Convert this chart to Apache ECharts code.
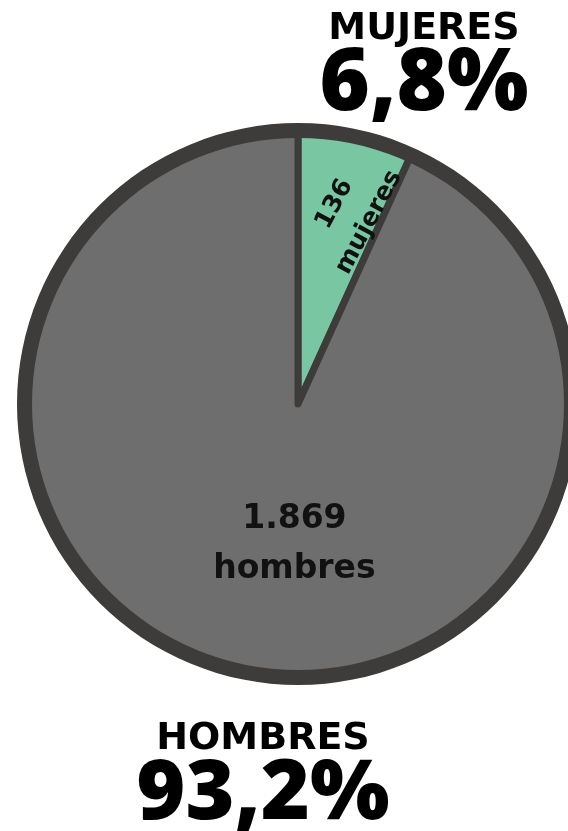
<!DOCTYPE html>
<html><head><meta charset="utf-8">
<script src="https://cdn.jsdelivr.net/npm/echarts@6/dist/echarts.min.js"></script>
<style>html,body{margin:0;padding:0;background:#fff}#c{width:568px;height:831px}</style>
</head><body><div id="c"></div>
<script>
const categories = ['mujeres', 'hombres'];
const values = [136, 1869];
const headings = ['MUJERES', 'HOMBRES'];
const percents = ['6,8%', '93,2%'];
const colors = ['#79c6a2', '#6e6e6e'];

const fmt = v => String(v).replace(/\B(?=(\d{3})+(?!\d))/g, '.');
const DARK = '#3e3c3a';
const WORD_FONT = '"DejaVu Sans", sans-serif';
const NUM_FONT = '"Open Sans", sans-serif';

const chart = echarts.init(document.getElementById('c'), null, {renderer: 'canvas'});
// dx/dy are in the label's own (rotated) frame
const labelCfg = [
  {fontSize: 25, lineHeight: 39, rotate: 62, dx: 59, dy: -4},
  {fontSize: 33, lineHeight: 50, rotate: 0, dx: 26, dy: 4}
];
chart.setOption({
  animation: false,
  graphic: [
    {type: 'text', x: 424, y: 29, style: {text: headings[0], font: '900 38px ' + WORD_FONT, fill: '#000', textAlign: 'center', textVerticalAlign: 'middle'}},
    {type: 'text', x: 424, y: 85, style: {text: percents[0], font: '800 86px ' + NUM_FONT, fill: '#000', textAlign: 'center', textVerticalAlign: 'middle'}},
    {type: 'text', x: 263, y: 739, style: {text: headings[1], font: '900 38px ' + WORD_FONT, fill: '#000', textAlign: 'center', textVerticalAlign: 'middle'}},
    {type: 'text', x: 263, y: 795, style: {text: percents[1], font: '800 84px ' + NUM_FONT, fill: '#000', textAlign: 'center', textVerticalAlign: 'middle'}}
  ],
  series: [
    {
      type: 'pie',
      center: [298, 404],
      radius: [0, 274],
      startAngle: 90,
      clockwise: true,
      silent: true,
      labelLine: {show: false},
      itemStyle: {borderColor: DARK, borderWidth: 7},
      data: categories.map((c, i) => ({
        name: c, value: values[i],
        itemStyle: {color: colors[i]},
        label: {
          show: true, position: 'inside', rotate: labelCfg[i].rotate,
          fontSize: labelCfg[i].fontSize, lineHeight: labelCfg[i].lineHeight,
          fontWeight: 'bold', fontFamily: WORD_FONT, color: '#111',
          textBorderWidth: 0, align: 'center'
        }
      })),
      label: {formatter: p => fmt(p.value) + '\n' + p.name},
      labelLayout: p => ({dx: labelCfg[p.dataIndex].dx, dy: labelCfg[p.dataIndex].dy})
    },
    {
      type: 'pie',
      center: [298, 404],
      radius: [266, 281],
      silent: true,
      label: {show: false},
      labelLine: {show: false},
      itemStyle: {color: DARK},
      data: [{name: 'ring', value: 1}]
    }
  ]
});
</script></body></html>
